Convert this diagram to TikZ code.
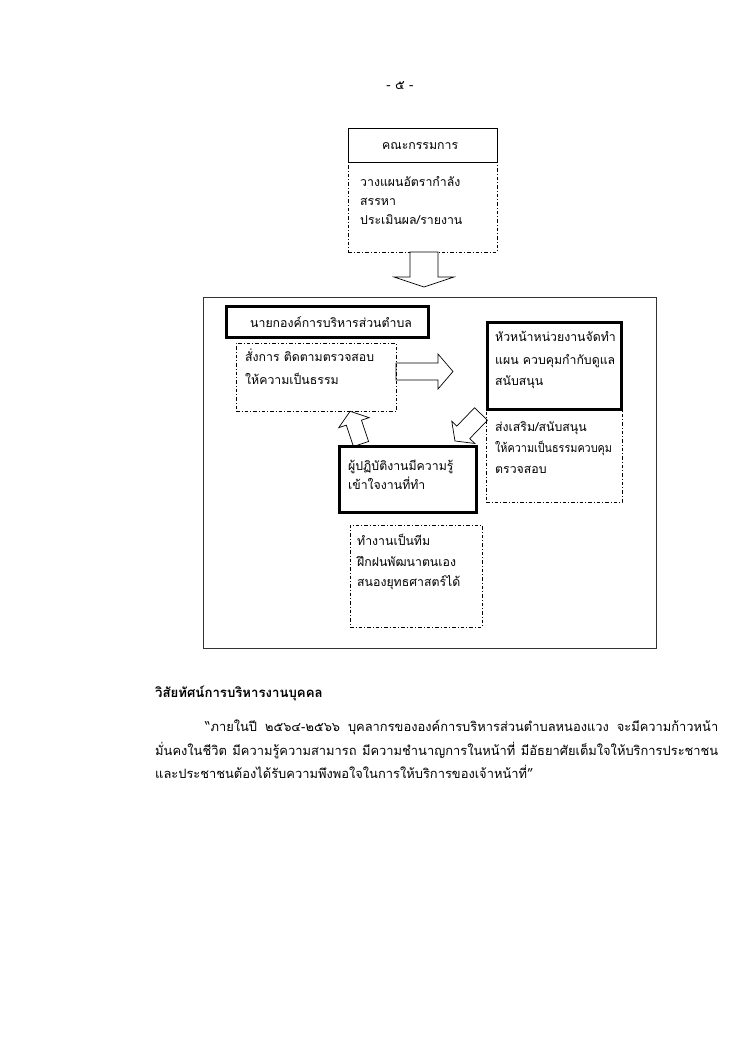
\documentclass[tikz,border=0pt]{standalone}
\usepackage{fontspec}
\newfontfamily\thai[Script=Thai]{Loma}
\newcommand{\BlkArr}[7]{\draw[blockarrow, shift={(#1,#2)}, rotate=#3] (0,-#5) -- ({#4-#7},-#5) -- ({#4-#7},-#6) -- (#4,0) -- ({#4-#7},#6) -- ({#4-#7},#5) -- (0,#5) -- cycle;}
\begin{document}
\begin{tikzpicture}[x=1pt,y=-1pt,
  txt/.style={font=\thai\fontsize{12.3}{14}\selectfont, inner sep=0pt, anchor=base west},
  bodytxt/.style={font=\thai\fontsize{12.9}{15}\selectfont, inner sep=0pt, anchor=base west},
  thickbox/.style={draw, line width=3pt, inner sep=0pt},
  thinbox/.style={draw, line width=0.8pt, inner sep=0pt},
  framebox/.style={draw, line width=0.8pt, inner sep=0pt, draw=black!80},
  dashbox/.style={draw, line width=0.7pt, dash pattern=on 3.5pt off 2pt on 1pt off 2pt, inner sep=0pt},
  blockarrow/.style={draw, line width=0.7pt, fill=white, line join=miter}]
\fill[white] (0,0) rectangle (750,1060);
\useasboundingbox (0,0) rectangle (750,1060);

% page number
\node[bodytxt, anchor=base] (pagenum) at (400,89) {- ๕ -};

% committee
\node[dashbox, minimum width=149pt, minimum height=90pt] (commbody) at (422.5,207) {};
\node[thinbox, minimum width=149pt, minimum height=34pt] (comm) at (422.5,145) {};
\node[txt] (commt) at (382,149) {คณะกรรมการ};
\node[txt] (cb1) at (360,186) {วางแผนอัตรากำลัง};
\node[txt] (cb2) at (360,205) {สรรหา};
\node[txt] (cb3) at (360,224) {ประเมินผล/รายงาน};

% arrows
\BlkArr{424}{252}{-90}{35}{14}{30}{10}
\BlkArr{396}{371.5}{0}{57}{8.5}{17.5}{15}
\BlkArr{361}{444}{108.4}{34.5}{8}{16}{12}
\BlkArr{481}{414}{-134}{37.5}{9}{16}{12}

% frame
\node[framebox, minimum width=453pt, minimum height=351pt] (frame) at (429.5,472.5) {};

% mayor
\node[thickbox, minimum width=202pt, minimum height=31pt] (mayor) at (327,321.5) {};
\node[txt] (mayort) at (250,327) {นายกองค์การบริหารส่วนตำบล};
\node[dashbox, minimum width=160pt, minimum height=68pt] (mayorbody) at (316,377) {};
\node[txt] (mb1) at (245,361) {สั่งการ ติดตามตรวจสอบ};
\node[txt] (mb2) at (245,384) {ให้ความเป็นธรรม};

% head of unit
\node[thickbox, minimum width=134pt, minimum height=87pt] (head) at (554,365.5) {};
\node[txt] (h1) at (495,341) {หัวหน้าหน่วยงานจัดทำ};
\node[txt] (h2) at (495,364) {แผน ควบคุมกำกับดูแล};
\node[txt] (h3) at (495,385) {สนับสนุน};
\node[dashbox, minimum width=136pt, minimum height=92pt] (headbody) at (554,456) {};
\node[txt] (hb1) at (495,431) {ส่งเสริม/สนับสนุน};
\node[txt] (hb2) at (495,452) {\scalebox{0.88}[1]{ให้ความเป็นธรรมควบคุม}};
\node[txt] (hb3) at (495,473) {ตรวจสอบ};

% worker
\node[thickbox, minimum width=137pt, minimum height=66pt] (worker) at (407.5,479) {};
\node[txt] (w1) at (348,470) {ผู้ปฏิบัติงานมีความรู้};
\node[txt] (w2) at (348,489) {เข้าใจงานที่ทำ};
\node[dashbox, minimum width=132pt, minimum height=102pt] (workerbody) at (416,576) {};
\node[txt] (wb1) at (357,545) {ทำงานเป็นทีม};
\node[txt] (wb2) at (357,566) {ฝึกฝนพัฒนาตนเอง};
\node[txt] (wb3) at (357,586) {สนองยุทธศาสตร์ได้};

% vision
\node[bodytxt, font=\thai\bfseries\fontsize{13.2}{15}\selectfont] (vtitle) at (155,697) {วิสัยทัศน์การบริหารงานบุคคล};
\node[bodytxt] (v1) at (205,731) {\makebox[513pt][s]{“ภายในปี ๒๕๖๔-๒๕๖๖ บุคลากรขององค์การบริหารส่วนตำบลหนองแวง จะมีความก้าวหน้า}};
\node[bodytxt] (v2) at (155,755) {\makebox[563pt][s]{มั่นคงในชีวิต มีความรู้ความสามารถ มีความชำนาญการในหน้าที่ มีอัธยาศัยเต็มใจให้บริการประชาชน}};
\node[bodytxt] (v3) at (155,778) {และประชาชนต้องได้รับความพึงพอใจในการให้บริการของเจ้าหน้าที่”};
\end{tikzpicture}
\end{document}
